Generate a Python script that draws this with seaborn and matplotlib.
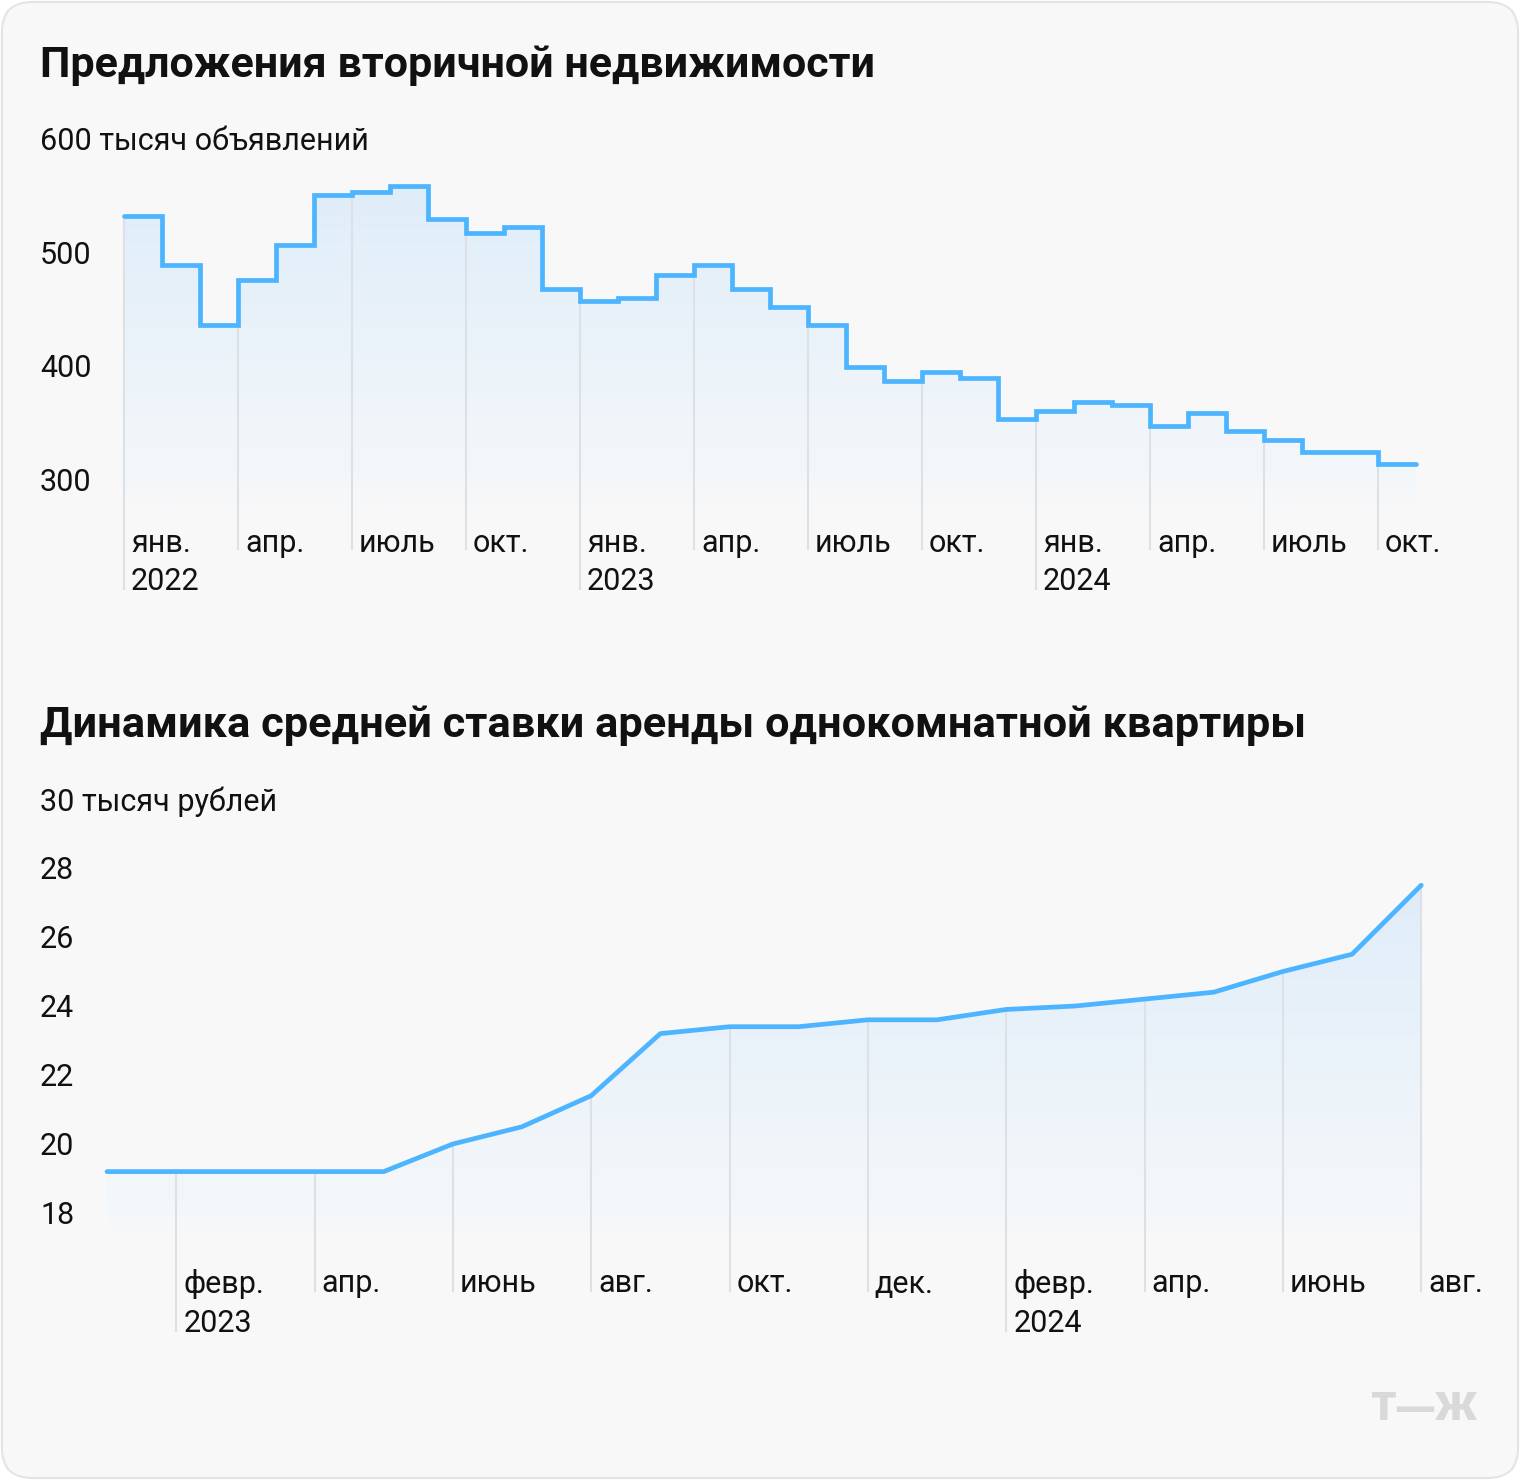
import matplotlib
matplotlib.use("Agg")
import matplotlib.pyplot as plt
import seaborn as sns
import numpy as np
from matplotlib.colors import LinearSegmentedColormap
from matplotlib.patches import FancyBboxPatch
from matplotlib.transforms import offset_copy

# ---- data ----
# listings, thousands, monthly Jan 2022 .. Oct 2024
listings = [533, 489, 437, 476, 507, 551, 554, 559, 530, 518, 523, 468,
            458, 460, 481, 489, 468, 452, 437, 400, 387, 395, 390, 354,
            361, 369, 366, 348, 359, 343, 335, 325, 325, 314]
listing_ticks = ["янв.", "апр.", "июль", "окт."] * 3
listing_years = {0: "2022", 12: "2023", 24: "2024"}
listing_yticks = [500, 400, 300]

# rent, thousand rubles, monthly Jan 2023 .. Aug 2024
rent = [19.2, 19.2, 19.2, 19.2, 19.2, 20.0, 20.5, 21.4, 23.2, 23.4,
        23.4, 23.6, 23.6, 23.9, 24.0, 24.2, 24.4, 25.0, 25.5, 27.5]
rent_ticks = ["февр.", "апр.", "июнь", "авг.", "окт.", "дек.",
              "февр.", "апр.", "июнь", "авг."]
rent_years = {1: "2023", 13: "2024"}
rent_yticks = [28, 26, 24, 22, 20, 18]

sns.set_style("white")
plt.rcParams["font.family"] = ["Roboto", "DejaVu Sans"]

W, H = 1520, 1480
BG = "#f8f8f8"
LINE = "#4db5ff"
GRID = "#dde0e4"
TXT = "#111111"
FS = 22
grad_cmap = LinearSegmentedColormap.from_list("fade", ["#f6f8fa", "#dfedf9"])

fig = plt.figure(figsize=(W / 100, H / 100), dpi=100)
fig.patch.set_facecolor("white")
card = FancyBboxPatch((2 / W, 2 / H), (W - 4) / W, (H - 4) / H,
                      boxstyle="round,pad=0,rounding_size=0.02",
                      transform=fig.transFigure, facecolor=BG,
                      edgecolor="#e4e4e4", linewidth=1.5, zorder=-10)
fig.patches.append(card)


def add_ax(left, top, right, bottom):
    return fig.add_axes([left / W, 1 - bottom / H, (right - left) / W, (bottom - top) / H])


def gradient_fill(ax, x, y, base, step=None):
    poly = ax.fill_between(x, y, base, step=step, facecolor="none", edgecolor="none")
    top = max(y)
    im = ax.imshow(np.linspace(1, 0, 256).reshape(-1, 1), cmap=grad_cmap, aspect="auto",
                   extent=[x[0], x[-1], base, top], origin="upper", zorder=1)
    im.set_clip_path(poly.get_paths()[0], transform=ax.transData)


# ---------- chart 1 ----------
fig.text(40 / W, 1 - 66 / H, "Предложения вторичной недвижимости", fontsize=31,
         fontweight="bold", color=TXT, va="center", ha="left")

y1 = lambda py: 300 + (480 - py) / 1.135   # pixel row -> value
ax1 = add_ax(40, 130, 1480, 610)
ax1.patch.set_alpha(0)
n1 = len(listings)
x1 = np.arange(n1 + 1)
v1 = listings + [listings[-1]]
gradient_fill(ax1, x1, v1, y1(505), step="post")
tick_pos1 = np.arange(0, n1, 3)
ax1.vlines(tick_pos1, [y1(590) if i in listing_years else y1(550) for i in tick_pos1],
           [listings[i] for i in tick_pos1], color=GRID, lw=1.5, zorder=2)
sns.lineplot(x=x1, y=v1, drawstyle="steps-post", color=LINE, linewidth=3.4,
             ax=ax1, zorder=3, solid_joinstyle="miter")
ax1.set_xlim(-84 / 38, 1356 / 38)
ax1.set_ylim(y1(610), y1(130))
tr1 = offset_copy(ax1.transData, fig=fig, x=7, y=0, units="dots")
for i, lab in zip(tick_pos1, listing_ticks):
    ax1.text(i, y1(543), lab, transform=tr1, fontsize=FS, color=TXT, va="center", ha="left")
for i, lab in listing_years.items():
    ax1.text(i, y1(582), lab, transform=tr1, fontsize=FS, color=TXT, va="center", ha="left")
ax1.text(0, y1(142), "600 тысяч объявлений", transform=ax1.get_yaxis_transform(),
         fontsize=FS, color=TXT, va="center", ha="left")
for v in listing_yticks:
    ax1.text(0, v - 2, str(v), transform=ax1.get_yaxis_transform(),
             fontsize=FS, color=TXT, va="center", ha="left")
ax1.axis("off")

# ---------- chart 2 ----------
fig.text(40 / W, 1 - 726 / H, "Динамика средней ставки аренды однокомнатной квартиры",
         fontsize=31.2, fontweight="bold", color=TXT, va="center", ha="left")

y2 = lambda py: 18 + (1213 - py) / 34.5
ax2 = add_ax(40, 780, 1480, 1350)
ax2.patch.set_alpha(0)
n2 = len(rent)
x2 = np.arange(n2)
gradient_fill(ax2, x2, rent, y2(1233))
tick_pos2 = np.arange(1, n2, 2)
ax2.vlines(tick_pos2, [y2(1332) if i in rent_years else y2(1292) for i in tick_pos2],
           [rent[i] for i in tick_pos2], color=GRID, lw=1.5, zorder=2)
sns.lineplot(x=x2, y=rent, color=LINE, linewidth=3.4, ax=ax2, zorder=3)
ax2.set_xlim(-67 / 69.17, 1373 / 69.17)
ax2.set_ylim(y2(1350), y2(780))
tr2 = offset_copy(ax2.transData, fig=fig, x=7, y=0, units="dots")
for i, lab in zip(tick_pos2, rent_ticks):
    ax2.text(i, y2(1284), lab, transform=tr2, fontsize=FS, color=TXT, va="center", ha="left")
for i, lab in rent_years.items():
    ax2.text(i, y2(1324), lab, transform=tr2, fontsize=FS, color=TXT, va="center", ha="left")
ax2.text(0, y2(802), "30 тысяч рублей", transform=ax2.get_yaxis_transform(),
         fontsize=FS, color=TXT, va="center", ha="left")
for v in rent_yticks:
    ax2.text(0, v - 0.06, str(v), transform=ax2.get_yaxis_transform(),
             fontsize=FS, color=TXT, va="center", ha="left")
ax2.axis("off")

# logo
fig.text(1478 / W, 1 - 1410 / H, "Т—Ж", fontsize=27, fontweight="black",
         color="#d9d9d9", ha="right", va="center", family=["Inter", "DejaVu Sans"])

fig.savefig("out.png", dpi=100, facecolor=fig.get_facecolor())
